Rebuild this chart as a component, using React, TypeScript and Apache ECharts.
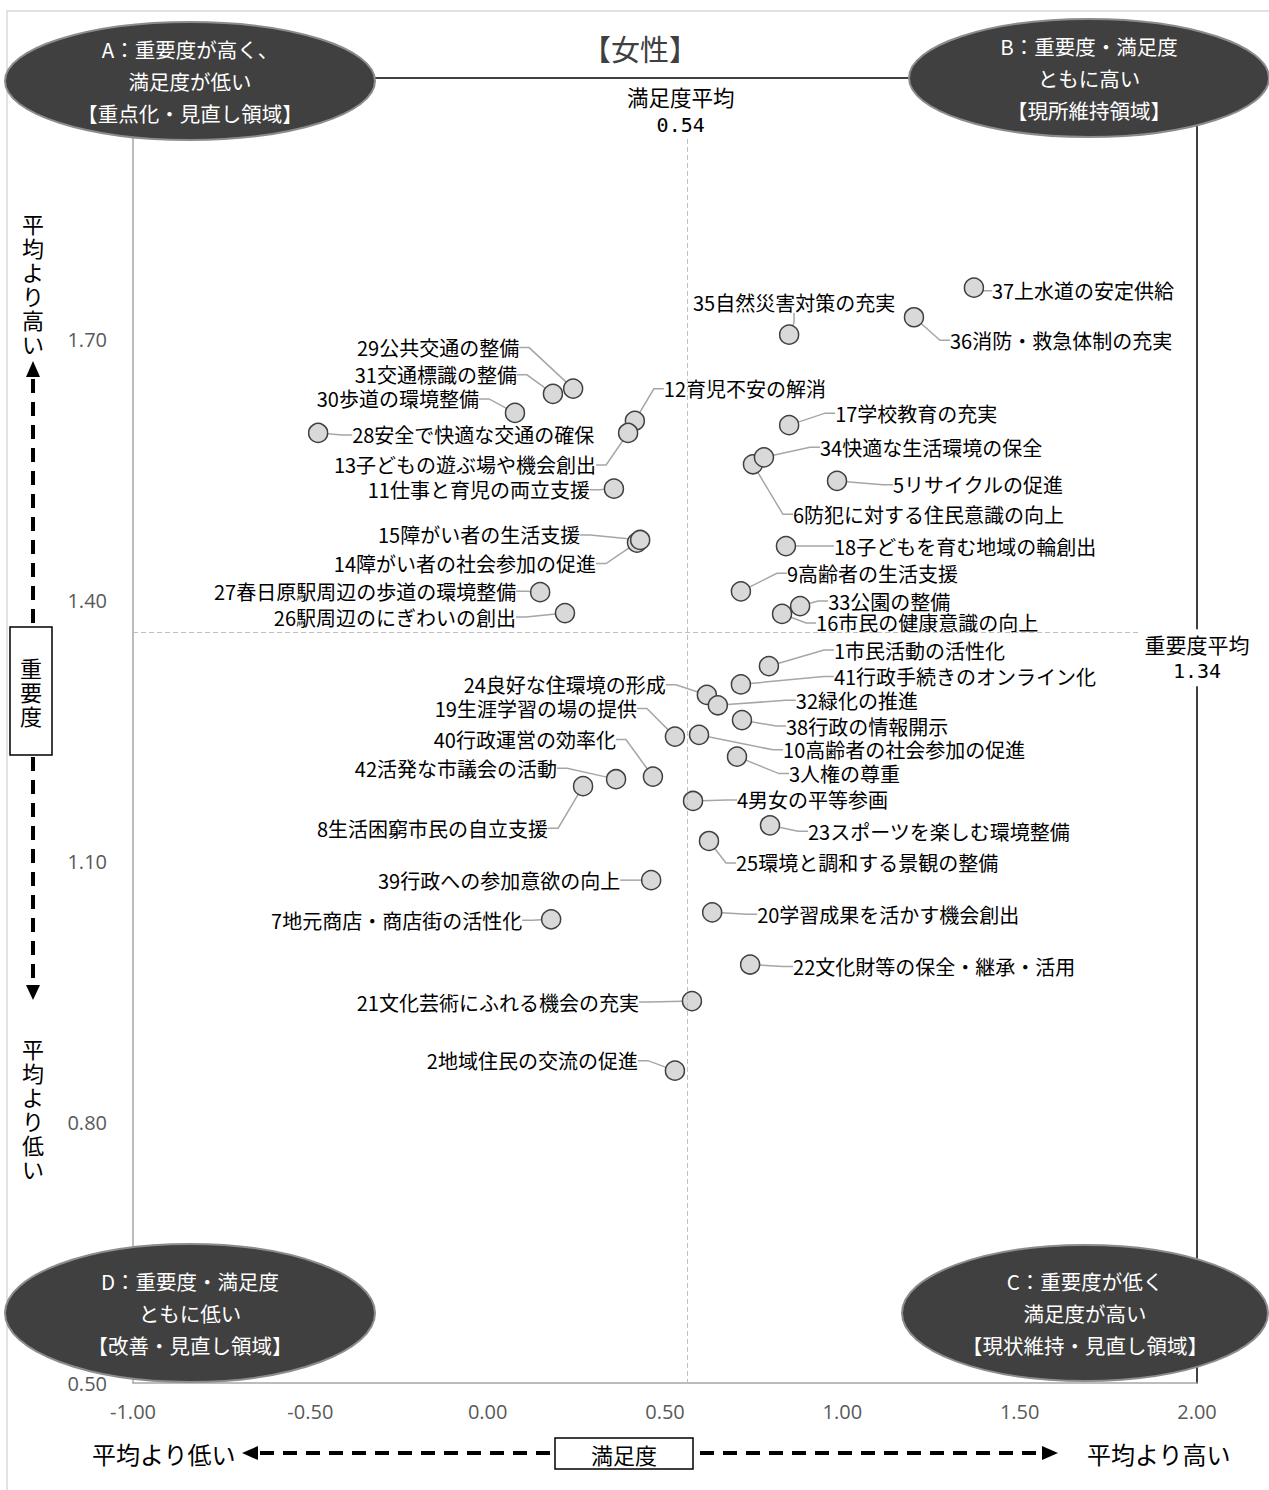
import React, { useEffect, useRef } from 'react';
import * as echarts from 'echarts';

// ---- data (item order 1..42) ----
const itemNames = [
  '市民活動の活性化', '地域住民の交流の促進', '人権の尊重', '男女の平等参画', 'リサイクルの促進',
  '防犯に対する住民意識の向上', '地元商店・商店街の活性化', '生活困窮市民の自立支援', '高齢者の生活支援', '高齢者の社会参加の促進',
  '仕事と育児の両立支援', '育児不安の解消', '子どもの遊ぶ場や機会創出', '障がい者の社会参加の促進', '障がい者の生活支援',
  '市民の健康意識の向上', '学校教育の充実', '子どもを育む地域の輪創出', '生涯学習の場の提供', '学習成果を活かす機会創出',
  '文化芸術にふれる機会の充実', '文化財等の保全・継承・活用', 'スポーツを楽しむ環境整備', '良好な住環境の形成', '環境と調和する景観の整備',
  '駅周辺のにぎわいの創出', '春日原駅周辺の歩道の環境整備', '安全で快適な交通の確保', '公共交通の整備', '歩道の環境整備',
  '交通標識の整備', '緑化の推進', '公園の整備', '快適な生活環境の保全', '自然災害対策の充実',
  '消防・救急体制の充実', '上水道の安定供給', '行政の情報開示', '行政への参加意欲の向上', '行政運営の効率化',
  '行政手続きのオンライン化', '活発な市議会の活動',
];

const satisfaction = [
  0.793, 0.528, 0.703, 0.579, 0.985,
  0.748, 0.179, 0.269, 0.714, 0.596,
  0.356, 0.415, 0.396, 0.421, 0.430,
  0.830, 0.850, 0.841, 0.528, 0.633,
  0.576, 0.740, 0.796, 0.618, 0.624,
  0.218, 0.148, -0.478, 0.241, 0.077,
  0.184, 0.649, 0.881, 0.779, 0.850,
  1.202, 1.371, 0.717, 0.461, 0.466,
  0.714, 0.362,
];

const importance = [
  1.324, 0.859, 1.220, 1.169, 1.537,
  1.556, 1.033, 1.186, 1.410, 1.245,
  1.528, 1.606, 1.592, 1.466, 1.469,
  1.384, 1.601, 1.462, 1.243, 1.041,
  0.939, 0.981, 1.141, 1.291, 1.123,
  1.385, 1.409, 1.592, 1.643, 1.615,
  1.637, 1.279, 1.393, 1.564, 1.705,
  1.725, 1.759, 1.262, 1.078, 1.197,
  1.303, 1.194,
];

const yTickValues = [0.5, 0.8, 1.1, 1.4, 1.7];
const xMin = -1;
const xMax = 2;
const xInterval = 0.5;
const yMin = 0.5;
const yMax = 2.0;

const satisfactionMeanText = '0.54';
const importanceMeanText = '1.34';
const satisfactionMeanLine = 0.564;
const importanceMeanLine = 1.363;

// ---- label layout (pixel offsets from each point, style only) ----
const labelOffsets: [number, number, 'L' | 'R'][] = [
  [65, -16, 'L'], [-37, -10, 'R'], [52, 17, 'L'], [44, -1, 'L'], [56, 4, 'L'],
  [40, 50, 'L'], [-29, 1, 'R'], [-35, 42, 'R'], [46, -18, 'L'], [84, 15, 'L'],
  [-24, 1, 'R'], [29, -32, 'L'], [-32, 32, 'R'], [-41, 21, 'R'], [-60, -5, 'R'],
  [34, 9, 'L'], [46, -12, 'L'], [48, 0, 'L'], [-38, -28, 'R'], [45, 2, 'L'],
  [-53, 1, 'R'], [43, 2, 'L'], [38, 6, 'L'], [-41, -10, 'R'], [27, 22, 'L'],
  [-49, 4, 'R'], [-24, -1, 'R'], [34, 2, 'L'], [-54, -41, 'R'], [-36, -14, 'R'],
  [-36, -19, 'R'], [78, -5, 'L'], [28, -5, 'L'], [56, -10, 'L'], [106, -32, 'R'],
  [36, 23, 'L'], [18, 3, 'L'], [44, 6, 'L'], [-31, 0, 'R'], [-37, -37, 'R'],
  [93, -8, 'L'], [-59, -11, 'R'],
];

const JP = '"Noto Sans CJK JP", "Noto Sans", sans-serif';
const NUM = '"Open Sans", "Liberation Sans", sans-serif';
const MONO = '"DejaVu Sans Mono", monospace';

function jpText(x: number, y: number, text: string, size: number, opts: any = {}) {
  return {
    type: 'text',
    x,
    y,
    z: opts.z ?? 110,
    silent: true,
    style: {
      text,
      fontSize: size,
      fontFamily: opts.font ?? JP,
      fill: opts.fill ?? '#000',
      align: opts.align ?? 'center',
      verticalAlign: 'middle',
      lineHeight: opts.lineHeight ?? size * 1.2,
    },
  };
}

// vertical text: one element per character
function vText(x: number, yCenter: number, text: string, size: number, step: number) {
  const chars = Array.from(text);
  const y0 = yCenter - ((chars.length - 1) * step) / 2;
  return chars.map((c, i) => jpText(x, y0 + i * step, c, size, { lineHeight: size, z: 111 }));
}

function ellipse(cx: number, cy: number, rx: number, ry: number, lines: string) {
  return [
    {
      type: 'ellipse',
      z: 100,
      silent: true,
      shape: { cx, cy, rx, ry },
      style: { fill: '#404040', stroke: '#8c8c8c', lineWidth: 2 },
    },
    jpText(cx, cy, lines, 20.5, { fill: '#ffffff', lineHeight: 32, z: 101 }),
  ];
}

function buildGraphics(vx: number, vy: number, hx: number, hy: number) {
  const g: any[] = [];
  // outer frame
  g.push({
    type: 'rect', z: 1, silent: true,
    shape: { x: 7, y: 11, width: 1275, height: 1495 },
    style: { fill: 'none', stroke: '#d9d9d9', lineWidth: 1.5 },
  });
  // title
  g.push(jpText(640, 48, '【女性】', 29, { fill: '#404040' }));

  // quadrant ellipses
  g.push(...ellipse(190, 81, 185, 59, 'A：重要度が高く、\n満足度が低い\n【重点化・見直し領域】'));
  g.push(...ellipse(1089, 78, 180, 59, 'B：重要度・満足度\nともに高い\n【現所維持領域】'));
  g.push(...ellipse(1085, 1313, 183, 68, 'C：重要度が低く\n満足度が高い\n【現状維持・見直し領域】'));
  g.push(...ellipse(190, 1313, 185, 69, 'D：重要度・満足度\nともに低い\n【改善・見直し領域】'));

  // mean labels
  g.push(jpText(vx - 7, vy - 42, '満足度平均', 21.5));
  g.push(jpText(vx - 7, vy - 14, satisfactionMeanText, 20, { font: MONO }));
  g.push({
    type: 'rect', z: 105, silent: true,
    shape: { x: hx - 55, y: hy - 3, width: 112, height: 57 },
    style: { fill: '#ffffff' },
  });
  g.push(jpText(hx, hy + 12, '重要度平均', 21));
  g.push(jpText(hx, hy + 39, importanceMeanText, 20, { font: MONO }));

  const dash = { stroke: '#000', lineWidth: 4, lineDash: [14, 9] };
  // left vertical guide
  g.push(...vText(33, 283, '平均より高い', 22, 24));
  g.push({ type: 'polygon', z: 110, silent: true, shape: { points: [[33, 361], [26, 377], [40, 377]] }, style: { fill: '#000' } });
  g.push({ type: 'line', z: 110, silent: true, shape: { x1: 33, y1: 379, x2: 33, y2: 626 }, style: dash });
  g.push({ type: 'rect', z: 110, silent: true, shape: { x: 10, y: 627, width: 42, height: 128 }, style: { fill: '#fff', stroke: '#000', lineWidth: 1.5 } });
  g.push(...vText(31, 691, '重要度', 22, 24));
  g.push({ type: 'line', z: 110, silent: true, shape: { x1: 33, y1: 757, x2: 33, y2: 985 }, style: dash });
  g.push({ type: 'polygon', z: 110, silent: true, shape: { points: [[33, 1000], [26, 985], [40, 985]] }, style: { fill: '#000' } });
  g.push(...vText(33, 1108, '平均より低い', 22, 24));

  // bottom horizontal guide
  g.push(jpText(92, 1453, '平均より低い', 24, { align: 'left' }));
  g.push({ type: 'polygon', z: 110, silent: true, shape: { points: [[242, 1453], [258, 1446], [258, 1460]] }, style: { fill: '#000' } });
  g.push({ type: 'line', z: 110, silent: true, shape: { x1: 260, y1: 1453, x2: 554, y2: 1453 }, style: dash });
  g.push({ type: 'rect', z: 110, silent: true, shape: { x: 555, y: 1438, width: 138, height: 31 }, style: { fill: '#fff', stroke: '#000', lineWidth: 1.5 } });
  g.push(jpText(624, 1454, '満足度', 22, { z: 111 }));
  g.push({ type: 'line', z: 110, silent: true, shape: { x1: 700, y1: 1453, x2: 1042, y2: 1453 }, style: dash });
  g.push({ type: 'polygon', z: 110, silent: true, shape: { points: [[1058, 1453], [1042, 1446], [1042, 1460]] }, style: { fill: '#000' } });
  g.push(jpText(1087, 1453, '平均より高い', 24, { align: 'left' }));
  return g;
}

export default function App() {
  const ref = useRef<HTMLDivElement>(null);

  useEffect(() => {
    if (!ref.current) return;
    const chart = echarts.init(ref.current, undefined, { renderer: 'svg' });

    const points = satisfaction.map((x, i) => ({
      value: [x, importance[i]],
      name: `${i + 1}${itemNames[i]}`,
    }));

    const meanLineTop = 1.93;
    const meanLineRight = 1.84;

    const option: any = {
      animation: false,
      backgroundColor: '#ffffff',
      textStyle: { fontFamily: JP },
      grid: { left: 133, right: 72, top: 78, bottom: 107, containLabel: false },
      xAxis: [
        {
          type: 'value', min: xMin, max: xMax, interval: xInterval, position: 'bottom',
          axisLine: { onZero: false, lineStyle: { color: '#a6a6a6', width: 1.5 } },
          axisTick: { show: false },
          splitLine: { show: false },
          axisLabel: {
            formatter: (v: number) => v.toFixed(2), color: '#595959', fontSize: 20,
            fontFamily: NUM, margin: 18, showMinLabel: true, showMaxLabel: true,
          },
        },
        {
          type: 'value', min: xMin, max: xMax, interval: xInterval, position: 'top',
          axisLine: { onZero: false, lineStyle: { color: '#000', width: 1.5 } },
          axisTick: { show: false }, splitLine: { show: false }, axisLabel: { show: false },
        },
      ],
      yAxis: [
        {
          type: 'value', min: yMin, max: yMax, position: 'left',
          axisLine: { show: true, onZero: false, lineStyle: { color: '#a6a6a6', width: 1.5 } },
          axisTick: { show: false },
          splitLine: { show: false },
          axisLabel: {
            customValues: yTickValues,
            formatter: (v: number) => v.toFixed(2), color: '#595959', fontSize: 20,
            fontFamily: NUM, margin: 26,
          },
        },
        {
          type: 'value', min: yMin, max: yMax, position: 'right',
          axisLine: { show: true, onZero: false, lineStyle: { color: '#000', width: 1.5 } },
          axisTick: { show: false }, splitLine: { show: false }, axisLabel: { show: false },
        },
      ],
      series: [
        {
          type: 'scatter',
          xAxisIndex: 0,
          yAxisIndex: 0,
          symbol: 'circle',
          symbolSize: 19,
          data: points,
          itemStyle: { color: '#d9d9d9', borderColor: '#404040', borderWidth: 1.5, opacity: 1 },
          label: {
            show: true,
            formatter: '{b}',
            fontSize: 20,
            lineHeight: 20,
            fontFamily: JP,
            color: '#000',
          },
          labelLine: {
            show: true,
            length2: 10,
            lineStyle: { color: '#a6a6a6', width: 1.5 },
          },
          labelLayout: (params: any) => {
            const o = labelOffsets[params.dataIndex];
            const cx = params.rect.x + params.rect.width / 2;
            const cy = params.rect.y + params.rect.height / 2;
            return {
              x: cx + o[0],
              y: cy + o[1],
              align: o[2] === 'L' ? 'left' : 'right',
              verticalAlign: 'middle',
            };
          },
          markLine: {
            silent: true,
            symbol: ['none', 'none'],
            label: { show: false },
            lineStyle: { color: '#bfbfbf', type: [5, 3], width: 1 },
            data: [
              [{ coord: [satisfactionMeanLine, meanLineTop] }, { coord: [satisfactionMeanLine, yMin] }],
              [{ coord: [xMin, importanceMeanLine] }, { coord: [meanLineRight, importanceMeanLine] }],
            ],
          },
        },
      ],
    };

    chart.setOption(option);
    const [vx, vy] = chart.convertToPixel({ seriesIndex: 0 }, [satisfactionMeanLine, meanLineTop]) as number[];
    const [hx, hy] = chart.convertToPixel({ seriesIndex: 0 }, [xMax, importanceMeanLine]) as number[];
    chart.setOption({ graphic: { elements: buildGraphics(vx, vy, hx, hy) } });

    return () => chart.dispose();
  }, []);

  return (
    <div
      ref={ref}
      style={{ position: 'absolute', left: 0, top: 0, width: 1269, height: 1490 }}
    />
  );
}
